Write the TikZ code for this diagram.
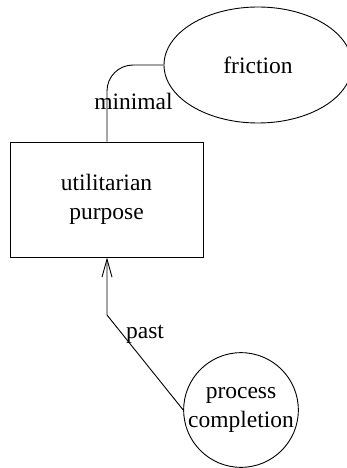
\documentclass[tikz,border=0pt]{standalone}
\usepackage{fontspec}
\setmainfont{Liberation Serif}
\usetikzlibrary{shapes.geometric,arrows.meta}
\begin{document}
\begin{tikzpicture}[x=1pt,y=-1pt,
  every node/.style={font=\fontsize{23.5}{29}\selectfont, inner sep=0pt, align=center},
  shapebox/.style={draw, line width=0.9pt},
  edge/.style={draw, line width=0.9pt},
  lbl/.style={anchor=base}]
\useasboundingbox (0,0) rectangle (347,468);
\begin{scope}
\clip (0,0) rectangle (347,468);
\node[shapebox, rectangle, minimum width=193pt, minimum height=115pt] (up) at (106.5,199.5) {utilitarian\\purpose};
\node[shapebox, ellipse, minimum width=188pt, minimum height=116pt] (fr) at (258,65) {friction};
\node[shapebox, circle, minimum size=114pt] (pc) at (241,410) {process\\completion};
\coordinate (bend) at (107,315);
\draw[edge, rounded corners=26pt] (up.north -| 107,0) |- (fr.west);
\draw[edge, -{Straight Barb[length=18pt,width=10pt]}] (pc.west) -- (bend) -- (up.south -| bend);
\node[lbl] (lmin) at (133.5,110) {minimal};
\node[lbl] (lpast) at (145,338) {past};
\end{scope}
\end{tikzpicture}
\end{document}
